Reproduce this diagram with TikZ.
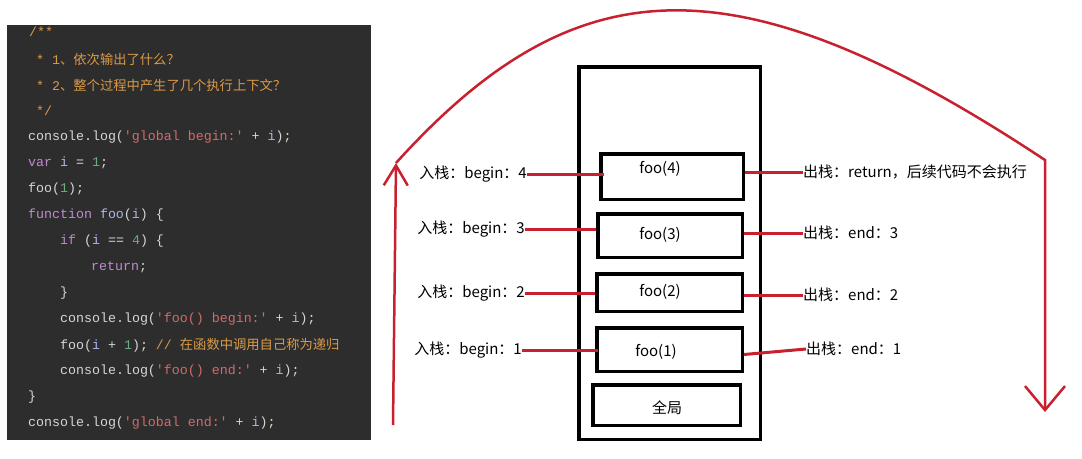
\documentclass[tikz,border=0pt]{standalone}
\usepackage{fontspec}
\setmainfont{Noto Sans CJK SC}
\setmonofont{Liberation Mono}
\newfontfamily\cjk{Noto Sans CJK SC}
\usetikzlibrary{arrows.meta,positioning}

\definecolor{codebg}{HTML}{2D2D2D}
\definecolor{codetxt}{HTML}{D6D6D6}
\definecolor{cmtcol}{HTML}{DA9A48}
\definecolor{kwcol}{HTML}{C08AD0}
\definecolor{strcol}{HTML}{D46A6A}
\definecolor{numcol}{HTML}{6AAE82}
\definecolor{idcol}{HTML}{A9B8E8}
\definecolor{stackred}{HTML}{C8202E}

\newcommand{\ccmt}[1]{\textcolor{cmtcol}{#1}}
\newcommand{\ckw}[1]{\textcolor{kwcol}{#1}}
\newcommand{\cstr}[1]{\textcolor{strcol}{#1}}
\newcommand{\cnum}[1]{\textcolor{numcol}{#1}}
\newcommand{\cid}[1]{\textcolor{idcol}{#1}}

\tikzset{
  codeline/.style={anchor=west, inner sep=0pt, text=codetxt,
    font=\ttfamily\fontsize{13.3}{16}\selectfont},
  frame/.style={draw, line width=3.5pt, inner sep=0pt},
  lbl/.style={inner sep=0pt, font=\fontsize{15}{18}\selectfont},
  link/.style={draw=stackred, line width=3pt},
  bigarc/.style={draw=stackred, line width=2.5pt},
}

\begin{document}
\begin{tikzpicture}[x=1pt,y=-1pt]
\useasboundingbox (0,0) rectangle (1082,458);

% code panel
\fill[codebg] (7,25) rectangle (371,440);
\node[codeline] (c1) at (29,32) {\ccmt{/**}};
\node[codeline] (c2) at (36,59) {\ccmt{* 1{\cjk 、依次输出了什么？}}};
\node[codeline] (c3) at (36,85) {\ccmt{* 2{\cjk 、整个过程中产生了几个执行上下文？}}};
\node[codeline] (c4) at (36,111) {\ccmt{*/}};
\node[codeline] (c5) at (28,137) {console.log(\cstr{'global begin:'} + \cid{i});};
\node[codeline] (c6) at (28,163) {\ckw{var} \cid{i} = \cnum{1};};
\node[codeline] (c7) at (28,189) {foo(\cnum{1});};
\node[codeline] (c8) at (28,215) {\ckw{function} \cid{foo}(\cid{i}) \{};
\node[codeline] (c9) at (60,241) {\ckw{if} (\cid{i} == \cnum{4}) \{};
\node[codeline] (c10) at (91,267) {\ckw{return};};
\node[codeline] (c11) at (60,293) {\}};
\node[codeline] (c12) at (60,319) {console.log(\cstr{'foo() begin:'} + \cid{i});};
\node[codeline] (c13) at (60,345) {foo(\cid{i} + \cnum{1}); \ccmt{// {\cjk 在函数中调用自己称为递归}}};
\node[codeline] (c14) at (60,371) {console.log(\cstr{'foo() end:'} + \cid{i});};
\node[codeline] (c15) at (28,397) {\}};
\node[codeline] (c16) at (28,423) {console.log(\cstr{'global end:'} + \cid{i});};

% call stack
\node[frame, minimum width=181.5pt, minimum height=372.5pt] (stack) at (669.5,253) {};
\node[frame, minimum width=142.5pt, minimum height=45.5pt] (f4) at (672,176.5) {};
\node[frame, minimum width=144.5pt, minimum height=43.5pt] (f3) at (670,235.5) {};
\node[frame, minimum width=145.5pt, minimum height=37.5pt] (f2) at (669.5,292.5) {};
\node[frame, minimum width=145.5pt, minimum height=43.5pt] (f1) at (669.5,349.5) {};
\node[frame, minimum width=147.5pt, minimum height=40.5pt] (glob) at (666.5,405) {};
\node[lbl] (t4) at (660,169) {foo(4)};
\node[lbl] (t3) at (660,235) {foo(3)};
\node[lbl] (t2) at (660,292) {foo(2)};
\node[lbl] (t1) at (656,352) {foo(1)};
\node[lbl] (tg) at (667,408) {全局};

% push labels
\node[lbl, anchor=east] (in4) at (527,174) {入栈：begin：4};
\node[lbl, anchor=east] (in3) at (525,229) {入栈：begin：3};
\node[lbl, anchor=east] (in2) at (525,293) {入栈：begin：2};
\node[lbl, anchor=east] (in1) at (522,350) {入栈：begin：1};
\draw[link] (in4.east) -- ([xshift=5pt]in4.east -| f4.west);
\draw[link] (in3.east) -- (in3.east -| f3.west);
\draw[link] (in2.east) -- (in2.east -| f2.west);
\draw[link] (in1.east) -- ([xshift=3pt]in1.east -| f1.west);

% pop labels
\node[lbl, anchor=west] (out4) at (803,172) {出栈：return，后续代码不会执行};
\node[lbl, anchor=west] (out3) at (803,233) {出栈：end：3};
\node[lbl, anchor=west] (out2) at (803,295) {出栈：end：2};
\node[lbl, anchor=west] (out1) at (806,349) {出栈：end：1};
\draw[link] (f4.east |- out4.west) -- (out4.west);
\draw[link] (f3.east |- out3.west) -- (out3.west);
\draw[link] (f2.east |- out2.west) -- (out2.west);
\draw[link] ([yshift=-5pt]f1.east) -- (out1.west);

% push / pop arrows
\coordinate (upbot) at (393,425);
\coordinate (uptip) at (396,163);
\coordinate (corner) at (1045,160);
\coordinate (downend) at (1045,412);
\draw[bigarc, -{Straight Barb[length=20pt,width=24pt]}] (upbot) -- (uptip);
\draw[bigarc, -{Straight Barb[length=24pt,width=40pt]}] (uptip) .. controls (575,-35) and (735,-45) .. (corner) -- (downend);
\end{tikzpicture}
\end{document}
